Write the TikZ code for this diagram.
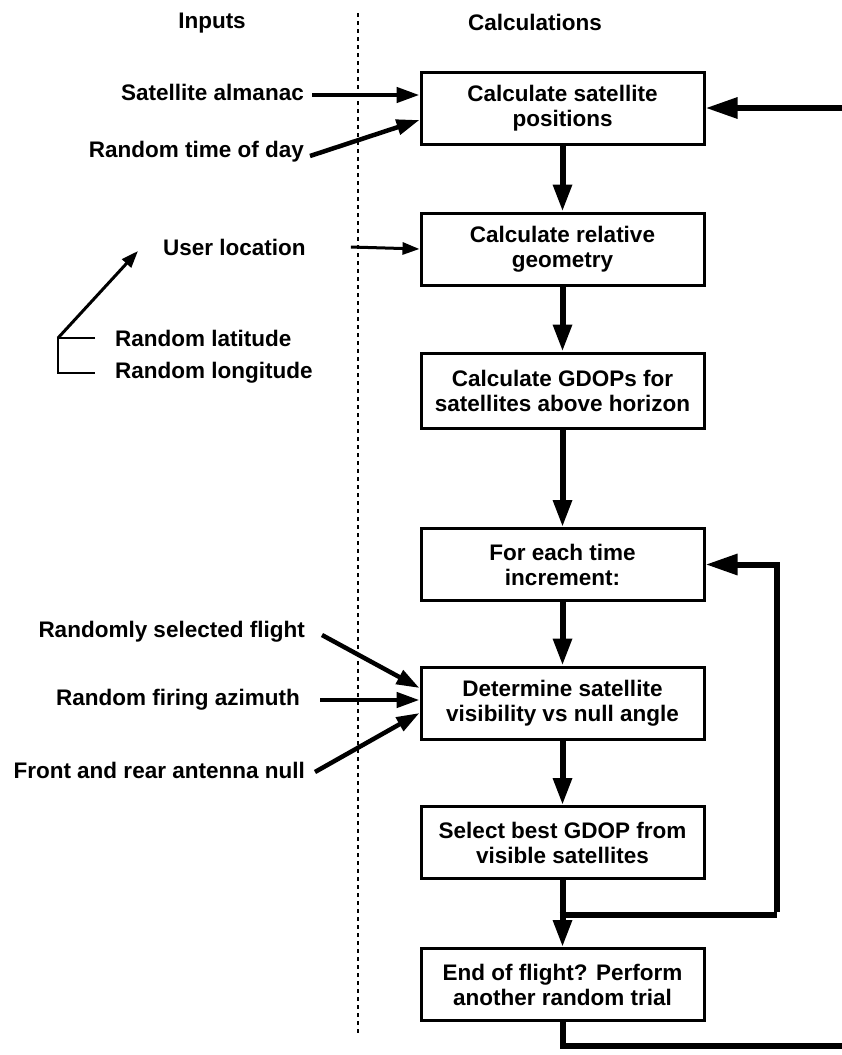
\documentclass[tikz,border=0pt]{standalone}
\usepackage{fontspec}
\setmainfont{Liberation Sans}
\usetikzlibrary{arrows.meta}
\begin{document}
\begin{tikzpicture}[x=1pt,y=-1pt,
  font=\fontsize{22.5}{25}\selectfont\bfseries,
  calcbox/.style={draw,line width=3pt,minimum width=283pt,minimum height=72pt,align=center,inner sep=0pt},
  lbl/.style={inner sep=0pt,anchor=east},
  flow/.style={line width=6pt,-{Triangle[length=27pt,width=18pt]}},
  flowline/.style={line width=6pt},
  backflow/.style={line width=6pt,-{Triangle[length=32pt,width=20pt]}},
  inarrow/.style={line width=4.5pt,-{Triangle[length=23pt,width=15pt]}},
  thinarrow/.style={line width=3pt,-{Triangle[length=17pt,width=12pt]}},
  bracket/.style={line width=2.8pt},
  dotline/.style={line width=2.8pt,dash pattern=on 4pt off 4pt}]
\useasboundingbox (0,0) rectangle (841,1055);
% headings
\node (hin) at (212,23) {Inputs};
\node (hcalc) at (535,22) {Calculations};
% divider
\coordinate (dtop) at (358,13);
\coordinate (dbot) at (358,1035);
\draw[dotline] (dtop) -- (dbot);
% calculation boxes
\node[calcbox] (b1) at (562.5,108) {Calculate satellite\\positions};
\node[calcbox] (b2) at (562.5,249) {Calculate relative\\geometry};
\node[calcbox,minimum height=75pt] (b3) at (562.5,390.5) {Calculate GDOPs for\\satellites above horizon};
\node[calcbox] (b4) at (562.5,564.5) {For each time\\increment:};
\node[calcbox] (b5) at (562.5,703) {Determine satellite\\visibility vs null angle};
\node[calcbox] (b6) at (562.5,842.5) {Select best GDOP from\\visible satellites};
\node[calcbox] (b7) at (562.5,984.5) {End of flight? Perform\\another random trial};
% inputs
\node[lbl] (sa) at (304,92) {Satellite almanac};
\node[lbl] (rt) at (304,152) {Random time of day};
\node[inner sep=0pt,anchor=west] (ul) at (163,247) {User location};
\node[inner sep=0pt,anchor=west] (lat) at (115,338) {Random latitude};
\node[inner sep=0pt,anchor=west] (lon) at (115,373) {Random longitude};
\node[lbl] (fl) at (305,632) {Randomly selected flight};
\node[lbl] (az) at (300,700) {Random firing azimuth};
\node[lbl] (fr) at (305,770) {Front and rear antenna null};
% input arrows
\draw[inarrow] ([xshift=8pt,yshift=-3pt]sa.east) -- ([yshift=-3pt]sa.east -| b1.west);
\draw[inarrow] ([xshift=6pt,yshift=-4pt]rt.east) -- ([yshift=-12pt]b1.west);
\draw[thinarrow] ([xshift=45pt]ul.east) -- (b2.west);
\draw[inarrow] ([xshift=17pt,yshift=-3pt]fl.east) -- ([yshift=15pt]b5.west);
\draw[inarrow] ([xshift=20pt]az.east) -- (az.east -| b5.west);
\draw[inarrow] ([xshift=10pt,yshift=-2pt]fr.east) -- ([yshift=-10pt]b5.west);
% user location bracket
\coordinate (brtop) at (58,338);
\coordinate (brbot) at (58,373);
\coordinate (ulin) at (138,251);
\draw[bracket] ([xshift=-20pt]lat.west) -- (brtop) -- (brbot) -- ([xshift=-20pt]lon.west);
\draw[thinarrow] (brtop) -- (ulin);
% main flow
\draw[flow] (b1) -- (b2);
\draw[flow] (b2) -- (b3);
\draw[flow] (b3) -- (b4);
\draw[flow] (b4) -- (b5);
\draw[flow] (b5) -- (b6);
\draw[flow] (b6) -- (b7);
% loop back
\coordinate (jn) at (562.5,915);
\coordinate (lc) at (777,915);
\draw[flowline] ([xshift=-3pt]jn) -- (lc);
\draw[backflow] ([yshift=3pt]lc) |- (b4.east);
% outer loop to next trial (off the right edge)
\coordinate (rbot) at (845,1046);
\coordinate (rtop) at (845,108);
\draw[flowline] (b7.south) |- (rbot);
\draw[backflow] (rtop) -- (b1.east);
\end{tikzpicture}
\end{document}
